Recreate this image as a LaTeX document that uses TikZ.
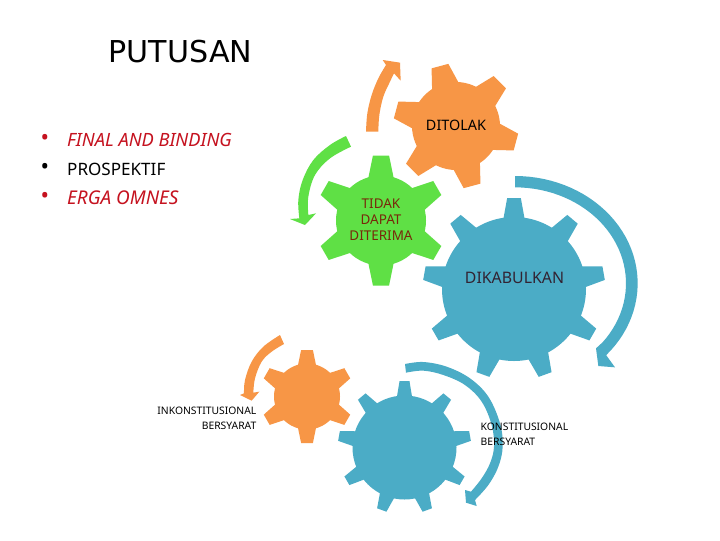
\documentclass[tikz,border=0pt]{standalone}
\usepackage{fontspec}
\setmainfont{Noto Sans}
\newfontfamily\titlefont{DejaVu Sans}
\definecolor{gorange}{HTML}{F79646}
\definecolor{ggreen}{HTML}{5FE045}
\definecolor{gblue}{HTML}{4BACC6}
\definecolor{bred}{HTML}{C5121F}
\newcommand{\gear}[8]{% cx cy body tip n start basehalf colour
  \fill[#8] (#1,#2) circle[radius=#3];
  \pgfmathsetmacro{\stepang}{360/#5}
  \pgfmathsetmacro{\tiphalf}{#7*0.62}
  \foreach \i in {1,...,#5}{
    \pgfmathsetmacro{\ang}{#6+\i*\stepang}
    \begin{scope}[shift={(#1,#2)},rotate=\ang]
      \fill[#8] (#3-4,-#7) -- (#4,-\tiphalf) -- (#4,\tiphalf) -- (#3-4,#7) -- cycle;
    \end{scope}
  }
}
\tikzset{
  title/.style={font=\titlefont\fontsize{22.6}{25}\selectfont,anchor=west,text=black},
  bullet/.style={font=\fontsize{13.2}{16}\selectfont,anchor=west},
  lab/.style={font=\fontsize{7.75}{11}\selectfont,align=center},
  band/.style={smooth,tension=0.6}
}
\begin{document}
\begin{tikzpicture}[x=0.75pt,y=-0.75pt]
\useasboundingbox (0,0) rectangle (720,540);
\fill[white] (0,0) rectangle (720,540);
% gears
\gear{456}{126}{44}{62}{6}{105}{14}{gorange}
\gear{381}{220.5}{45}{65}{6}{30}{13}{ggreen}
\gear{514}{289}{72}{91}{9}{90}{11}{gblue}
\gear{307}{396.5}{33}{46.5}{6}{30}{9.5}{gorange}
\gear{404.5}{447.5}{52}{66.5}{9}{90}{8}{gblue}
% arrows
\begin{scope}[shift={(280,50)},scale=1/3]
\fill[gorange] plot[band] coordinates {(258,245) (262,190) (275,135) (295,85) (318,45)} -- (308,30) -- (360,38) -- (362,92) -- (342,70) -- plot[band] coordinates {(342,70) (330,95) (310,140) (298,195) (295,245)} -- cycle;
\fill[ggreen] plot[band] coordinates {(198,258) (150,285) (100,330) (68,390) (55,450) (58,505)} -- (30,507) -- (75,525) -- (108,490) -- (85,495) -- plot[band] coordinates {(85,495) (85,440) (105,375) (150,325) (213,290)} -- cycle;
\end{scope}
\begin{scope}[shift={(420,170)},scale=1/3]
\fill[gblue] plot[domain=90:-42,samples=40,variable=\t] ({285+368*cos(\t)},{340-322*sin(\t)}) -- (585,592) -- (535,588) -- (528,535) -- plot[domain=-38:90,samples=40,variable=\t] ({285+333*cos(\t)},{340-288*sin(\t)}) -- cycle;
\end{scope}
\begin{scope}[shift={(150,330)},scale=1/3]
\fill[gorange] plot[band] coordinates {(390,15) (340,50) (305,95) (285,150) (282,190)} -- (270,195) -- (305,212) -- (328,185) -- (310,188) -- plot[band] coordinates {(310,188) (315,145) (335,95) (365,65) (402,42)} -- cycle;
\end{scope}
\begin{scope}[shift={(340,350)},scale=1/3]
\fill[gblue] plot[band] coordinates {(195,42) (250,36) (320,50) (390,85) (445,140) (480,220) (488,290) (475,350) (445,405) (405,450)} -- (410,468) -- (378,458) -- (375,420) -- (393,425) -- plot[band] coordinates {(393,425) (425,385) (450,340) (462,290) (455,225) (425,155) (375,105) (310,75) (250,62) (198,68)} -- cycle;
\end{scope}
% text
\node[title] (ttl) at (104,52) {PUTUSAN};
\node[bullet,text=bred,font=\fontsize{17}{20}\selectfont] (b1dot) at (36,140) {•};
\node[bullet,font=\fontsize{17}{20}\selectfont] (b2dot) at (36,169) {•};
\node[bullet,text=bred,font=\fontsize{17}{20}\selectfont] (b3dot) at (36,198) {•};
\node[bullet,text=bred,font=\fontsize{13.7}{16}\selectfont] (b1) at (62.5,140) {\itshape FINAL AND BINDING};
\node[bullet,font=\fontsize{12.8}{16}\selectfont] (b2) at (62.5,169) {PROSPEKTIF};
\node[bullet,text=bred,font=\fontsize{14.2}{16}\selectfont] (b3) at (62.5,198) {\itshape ERGA OMNES};
\node[font=\bfseries\fontsize{10.8}{12}\selectfont] (dit) at (456,125) {DITOLAK};
\node[lab,text={rgb,255:red,120;green,40;blue,10},font=\fontsize{10.1}{12}\selectfont] (tdd) at (381,220) {TIDAK\\DAPAT\\DITERIMA};
\node[font=\fontsize{11.9}{14}\selectfont,text={rgb,255:red,50;green,35;blue,50}] (dik) at (514.5,278) {DIKABULKAN};
\node[lab,align=right,anchor=east] (ink) at (261,418) {INKONSTITUSIONAL\\BERSYARAT};
\node[lab,align=left,anchor=west] (kon) at (476,434) {KONSTITUSIONAL\\BERSYARAT};
\end{tikzpicture}
\end{document}
